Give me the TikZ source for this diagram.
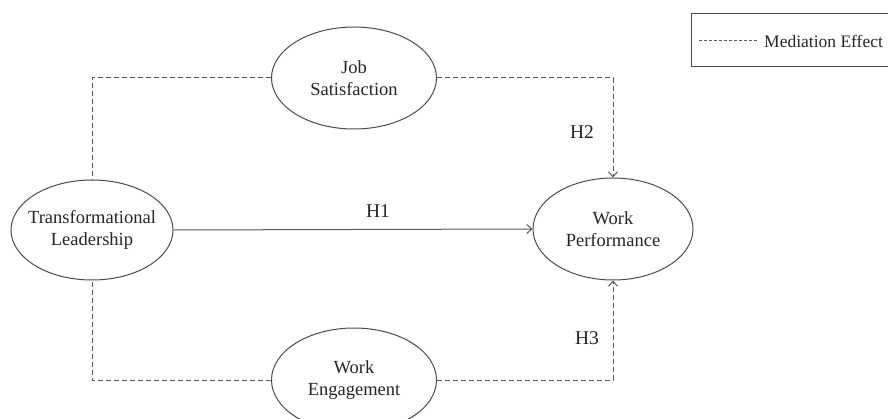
\documentclass[tikz,border=0pt]{standalone}
\usepackage{fontspec}
\setmainfont{Liberation Serif}
\usetikzlibrary{shapes.geometric,arrows.meta}
\begin{document}
\begin{tikzpicture}[x=1pt,y=-1pt,
  lv/.style={ellipse,draw=black!70,line width=1pt,inner sep=-12pt,align=center,
    font=\fontsize{18.5}{22}\selectfont,text=black!85},
  dashln/.style={draw=black!65,line width=1pt,dash pattern=on 5pt off 3pt},
  solidln/.style={draw=black!65,line width=1pt},
  tip/.style={-{Straight Barb[length=5pt,width=9pt]}},
  hlab/.style={font=\fontsize{19.5}{22}\selectfont,text=black!85}]
\clip (0,0) rectangle (888,419);
\fill[white] (0,0) rectangle (888,419);
\node[lv,minimum width=162pt,minimum height=100pt] (tl) at (92,230) {Transformational\\Leadership};
\node[lv,minimum width=160pt,minimum height=102pt] (wp) at (613,229) {Work\\Performance};
\node[lv,minimum width=165pt,minimum height=102pt] (js) at (354,78) {Job\\Satisfaction};
\node[lv,minimum width=165pt,minimum height=104pt] (we) at (354,380) {Work\\Engagement};
\draw[solidln,tip] (tl.east) -- (wp.west);
\draw[dashln] (js.west) -| (tl.north);
\draw[dashln,tip] (js.east) -| (wp.north);
\draw[dashln] (we.west) -| (tl.south);
\draw[dashln,tip] (we.east) -| (wp.south);
\node[hlab] (h1) at (378,211) {H1};
\node[hlab] (h2) at (582,132) {H2};
\node[hlab] (h3) at (587,338) {H3};
\node[draw=black!70,line width=1pt,minimum width=220pt,minimum height=53pt,anchor=north west,inner sep=0pt] (lg) at (691,13) {};
\coordinate (la) at (699,40);
\coordinate (lb) at (757,40);
\draw[dashln,line width=0.8pt,dash pattern=on 3pt off 2pt] (la) -- (lb);
\node[anchor=west,inner sep=0pt,font=\fontsize{17.5}{20}\selectfont,text=black!85] (lt) at (764,41) {Mediation Effect};
\end{tikzpicture}
\end{document}
